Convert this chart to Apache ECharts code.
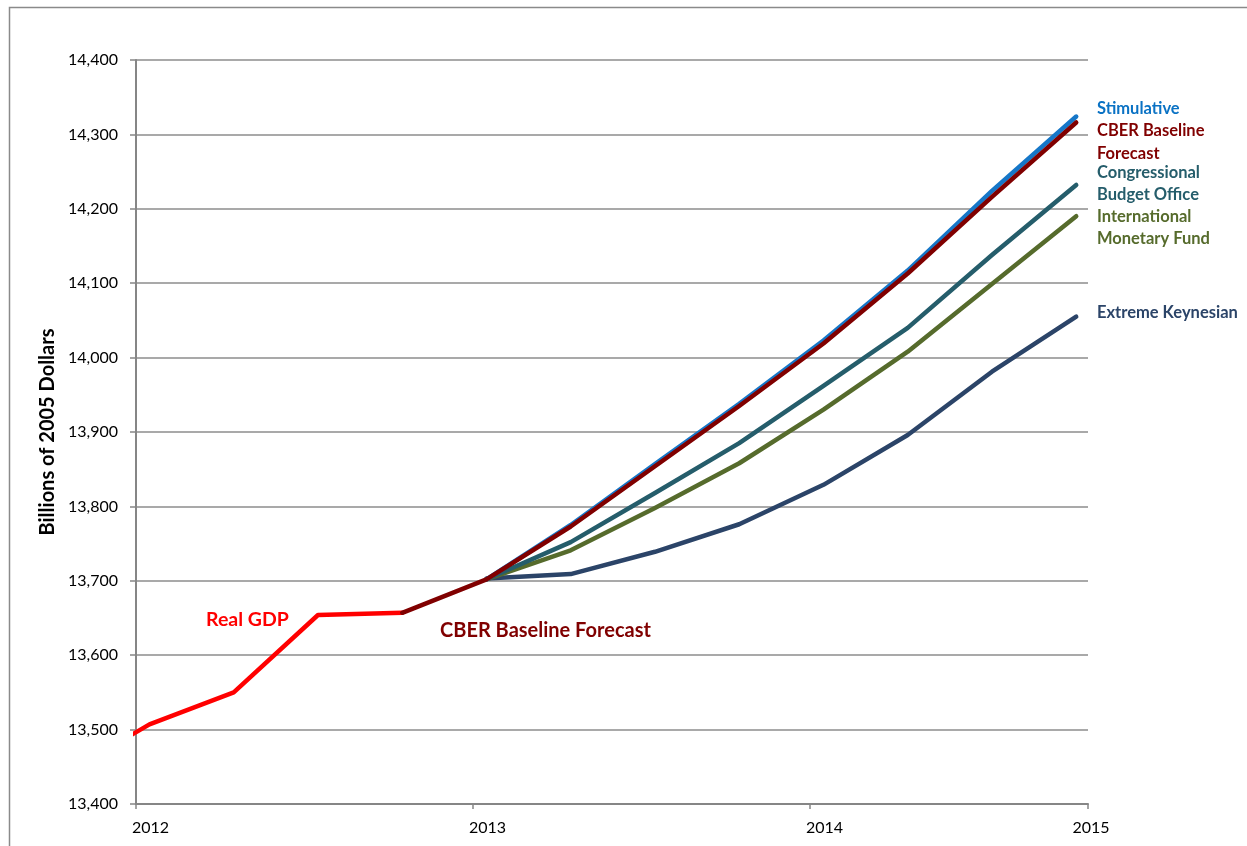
<!DOCTYPE html>
<html>
<head>
<meta charset="utf-8">
<script src="https://cdn.jsdelivr.net/npm/echarts@6/dist/echarts.min.js"></script>
<style>
  html, body { margin: 0; padding: 0; background: #fff; }
  #chart { width: 1247px; height: 846px; }
</style>
</head>
<body>
<div id="chart"></div>
<script>
// quarters and where they sit on the year axis (mid-month of first month of quarter)
var quarters = ['2011Q4', '2012Q1', '2012Q2', '2012Q3', '2012Q4', '2013Q1', '2013Q2', '2013Q3', '2013Q4', '2014Q1', '2014Q2', '2014Q3', '2014Q4'];
var quarterPos = [2011.79, 2012.04, 2012.29, 2012.54, 2012.79, 2013.04, 2013.29, 2013.54, 2013.79, 2014.04, 2014.29, 2014.54, 2014.79];

// billions of 2005 dollars
var realGdp      = [13441, 13507, 13550, 13654, 13657, null, null, null, null, null, null, null, null];
var cberBaseline = [null, null, null, null, 13657, 13702, 13773, 13854, 13935, 14019, 14113, 14216, 14316];
var stimulative  = [null, null, null, null, null, 13702, 13775, 13857, 13938, 14023, 14117, 14224, 14324];
var cbo          = [null, null, null, null, null, 13702, 13752, 13818, 13885, 13962, 14040, 14138, 14232];
var imf          = [null, null, null, null, null, 13702, 13741, 13798, 13858, 13930, 14008, 14099, 14190];
var extremeKeyn  = [null, null, null, null, null, 13703, 13709, 13739, 13776, 13829, 13896, 13981, 14055];

var yearTicks = ['2012', '2013', '2014', '2015'];

function pairs(arr) {
  var out = [];
  for (var i = 0; i < arr.length; i++) {
    if (arr[i] != null) out.push([quarterPos[i], arr[i]]);
  }
  return out;
}

function line(name, arr, color) {
  return {
    name: name,
    type: 'line',
    data: pairs(arr),
    symbol: 'none',
    lineStyle: { color: color, width: 4.5, cap: 'round', join: 'round' },
    itemStyle: { color: color },
    clip: true
  };
}

var chart = echarts.init(document.getElementById('chart'));
var font = 'Lato, "Open Sans", sans-serif';

var note = function (text, x, y, color, size) {
  return {
    type: 'text', x: x, y: y,
    style: { text: text, fill: color, font: 'bold ' + size + 'px ' + font, verticalAlign: 'middle' }
  };
};

var option = {
  animation: false,
  grid: { left: 136, right: 159, top: 60, bottom: 42 },
  xAxis: {
    type: 'value',
    min: 2012,
    max: 2014.825,
    interval: 1,
    splitLine: { show: false },
    axisLine: { lineStyle: { color: '#868686', width: 2 } },
    axisTick: { show: true, length: 5, lineStyle: { color: '#868686', width: 1.5 } },
    axisLabel: {
      color: '#000',
      fontFamily: font,
      fontSize: 16,
      margin: 16,
      padding: [0, 0, 0, 29],
      formatter: function (v) {
        if (v > 2014.5) return '{end|' + yearTicks[3] + '}';
        return yearTicks[Math.round(v) - 2012];
      },
      rich: { end: { padding: [0, 23, 0, 0], fontFamily: font, fontSize: 16, color: '#000' } }
    }
  },
  yAxis: {
    type: 'value',
    min: 13400,
    max: 14400,
    interval: 100,
    name: 'Billions of 2005 Dollars',
    nameLocation: 'middle',
    nameGap: 78,
    nameTextStyle: { color: '#000', fontFamily: font, fontWeight: 'bold', fontSize: 20 },
    axisLine: { show: true, lineStyle: { color: '#868686', width: 2 } },
    axisTick: { show: true, length: 6, lineStyle: { color: '#868686', width: 1.5 } },
    splitLine: { lineStyle: { color: '#8c8c8c', width: 1.5 } },
    axisLabel: {
      color: '#000',
      fontFamily: font,
      fontSize: 16,
      margin: 18,
      formatter: function (v) { return v.toLocaleString('en-US'); }
    }
  },
  series: [
    line('Real GDP', realGdp, '#ff0000'),
    line('Extreme Keynesian', extremeKeyn, '#2b4468'),
    line('International Monetary Fund', imf, '#566b2c'),
    line('Congressional Budget Office', cbo, '#255d6b'),
    line('Stimulative', stimulative, '#1677c8'),
    line('CBER Baseline Forecast', cberBaseline, '#800000')
  ],
  graphic: [
    {
      type: 'rect', left: 7, top: 5, silent: true,
      shape: { width: 1270, height: 870 },
      style: { fill: 'none', stroke: '#8a8a8a', lineWidth: 1.5 }
    },
    note('Real GDP', 206, 620, '#ff0000', 19.5),
    note('CBER Baseline Forecast', 440, 631, '#800000', 20),
    note('Stimulative', 1097, 109, '#0a72c4', 16.5),
    note('CBER Baseline', 1097, 131, '#800000', 16.5),
    note('Forecast', 1097, 154, '#800000', 16.5),
    note('Congressional', 1097, 173, '#255d6b', 16.5),
    note('Budget Office', 1097, 195, '#255d6b', 16.5),
    note('International', 1097, 217, '#566b2c', 16.5),
    note('Monetary Fund', 1097, 239, '#566b2c', 16.5),
    note('Extreme Keynesian', 1097, 313, '#2b4468', 16.5)
  ]
};

chart.setOption(option);
</script>
</body>
</html>
